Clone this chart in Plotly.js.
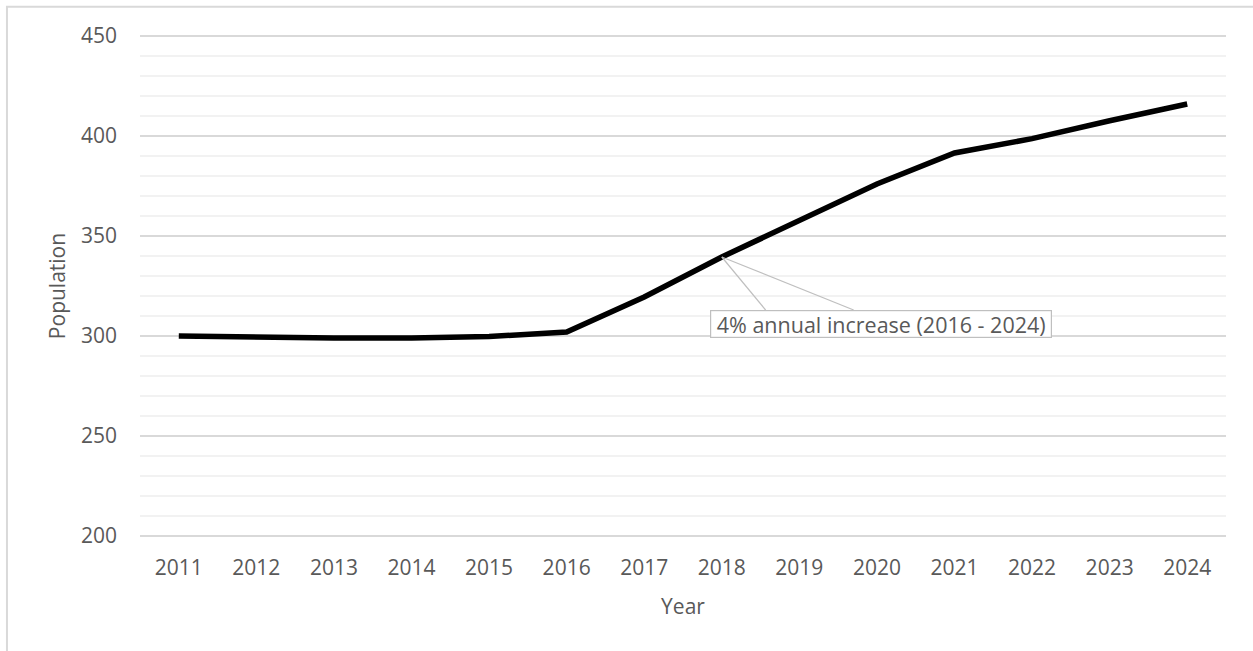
<!DOCTYPE html>
<html>
<head>
<meta charset="utf-8">
<script src="https://cdn.plot.ly/plotly-3.0.1.min.js"></script>
<style>
html,body{margin:0;padding:0;background:#fff;}
#chart{width:1253px;height:651px;}
</style>
</head>
<body>
<div id="chart"></div>
<script>
const years = ['2011','2012','2013','2014','2015','2016','2017','2018','2019','2020','2021','2022','2023','2024'];
const population = [300, 299.2, 299, 299, 299.7, 302, 319.5, 339.5, 357.5, 376, 391.5, 398.7, 407.6, 416];
const annotationText = '4% annual increase (2016 - 2024)';
const calloutYearIndex = 7; // 2018

const FONT = '"Open Sans", "Liberation Sans", sans-serif';
const TXT = '#595959';

const trace = {
  x: years,
  y: population,
  type: 'scatter',
  mode: 'lines',
  line: {color: '#000000', width: 5.5},
  hoverinfo: 'x+y'
};

const layout = {
  width: 1253,
  height: 651,
  margin: {l: 140, r: 27, t: 34, b: 113},
  paper_bgcolor: '#ffffff',
  plot_bgcolor: '#ffffff',
  showlegend: false,
  font: {family: FONT, size: 21, color: TXT},
  xaxis: {
    type: 'category',
    range: [-0.5, 13.5],
    showgrid: false,
    zeroline: false,
    showline: false,
    ticks: '',
    ticklabelstandoff: 15,
    tickfont: {family: FONT, size: 21, color: TXT},
    title: {text: 'Year', font: {family: FONT, size: 21, color: TXT}, standoff: 19}
  },
  yaxis: {
    range: [199, 451],
    dtick: 50,
    tick0: 200,
    showgrid: true,
    gridcolor: '#d9d9d9',
    gridwidth: 1.3,
    zeroline: false,
    showline: false,
    ticks: '',
    ticklabelstandoff: 22,
    tickfont: {family: FONT, size: 21, color: TXT},
    minor: {dtick: 10, tick0: 200, showgrid: true, gridcolor: '#f2f2f2', gridwidth: 1.3},
    title: {text: 'Population', font: {family: FONT, size: 21, color: TXT}, standoff: 9}
  },
  shapes: [
    {type: 'rect', xref: 'paper', yref: 'paper', x0: -0.1225, x1: 1.2, y0: -0.5, y1: 1.054,
     line: {color: '#d9d9d9', width: 2}, fillcolor: 'rgba(0,0,0,0)', layer: 'below'},
    {type: 'line', xref: 'x', yref: 'y', x0: calloutYearIndex, y0: population[calloutYearIndex], x1: 7.565, y1: 313,
     line: {color: '#bfbfbf', width: 1.2}},
    {type: 'line', xref: 'x', yref: 'y', x0: calloutYearIndex, y0: population[calloutYearIndex], x1: 8.70, y1: 313,
     line: {color: '#bfbfbf', width: 1.2}}
  ],
  annotations: [
    {xref: 'x', yref: 'y', x: 9.053, y: 306, text: annotationText, showarrow: false,
     font: {family: FONT, size: 21.5, color: TXT},
     bordercolor: '#bfbfbf', borderwidth: 1.2, borderpad: 0, bgcolor: '#ffffff',
     width: 340, height: 26, align: 'center', xanchor: 'center', yanchor: 'middle'}
  ]
};

Plotly.newPlot('chart', [trace], layout, {displayModeBar: false, staticPlot: true});
</script>
</body>
</html>
